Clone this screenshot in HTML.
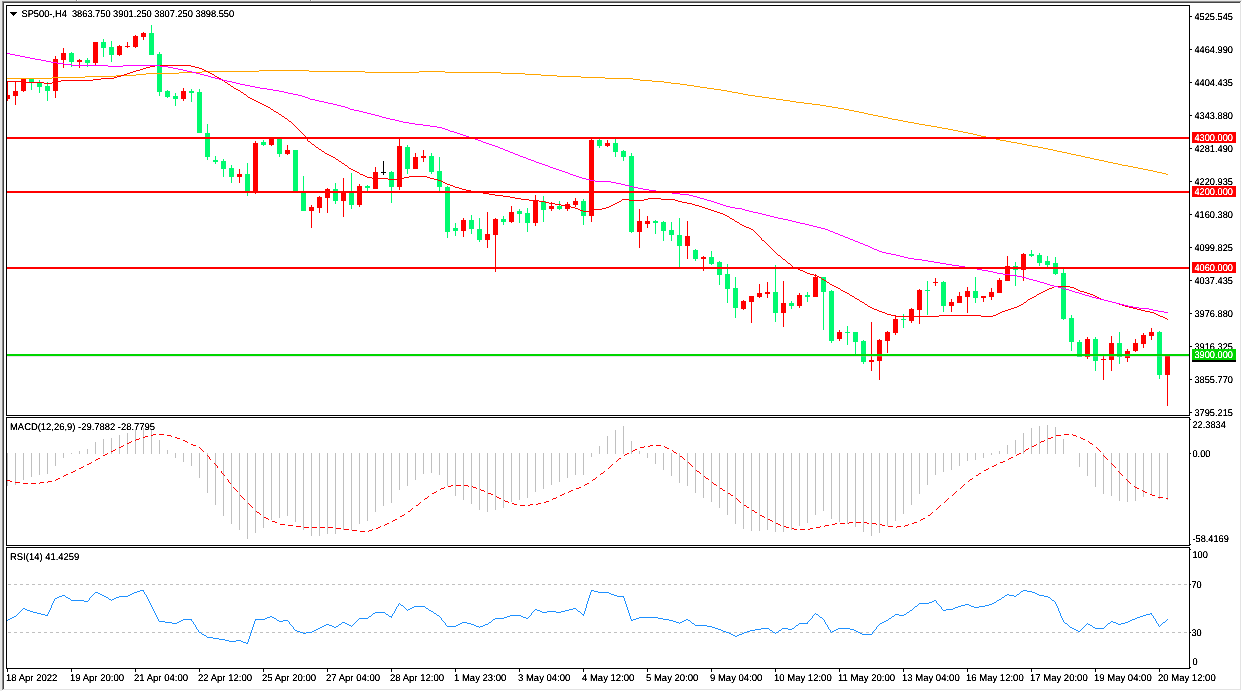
<!DOCTYPE html>
<html><head><meta charset="utf-8"><title>SP500 H4</title>
<style>
html,body{margin:0;padding:0;background:#fff;overflow:hidden}
body{width:1242px;height:691px;position:relative;font-family:"Liberation Sans",sans-serif}
svg{position:absolute;left:0;top:0;display:block}
text{font-family:"Liberation Sans",sans-serif;font-size:9.8px;fill:#000;text-rendering:geometricPrecision}
.w{fill:#fff}
</style></head><body>
<svg width="1242" height="691" viewBox="0 0 1242 691">
<defs><clipPath id="mc"><rect x="7" y="6" width="1182" height="409"/></clipPath><filter id="tf" x="0" y="0" width="100%" height="100%" filterUnits="userSpaceOnUse" color-interpolation-filters="sRGB"><feComponentTransfer><feFuncA type="linear" slope="2.0" intercept="-0.22"/></feComponentTransfer></filter></defs>
<rect x="0" y="0" width="1242" height="691" fill="#fff"/>
<g shape-rendering="crispEdges">
<rect x="0" y="0" width="1242" height="1" fill="#e9e9e9"/>
<rect x="0" y="0" width="2" height="691" fill="#e9e9e9"/>
<rect x="2" y="1" width="1239" height="1" fill="#8c8c8c"/>
<rect x="2" y="1" width="1" height="689" fill="#8c8c8c"/>
<rect x="3" y="2" width="1237" height="1" fill="#444"/>
<rect x="3" y="2" width="1" height="687" fill="#444"/>
<rect x="3" y="689" width="1238" height="1" fill="#e3e3e3"/>
<rect x="76" y="0" width="1" height="1" fill="#8a8a8a"/><rect x="77" y="0" width="1" height="1" fill="#fff"/><rect x="310" y="0" width="1" height="1" fill="#8a8a8a"/><rect x="311" y="0" width="1" height="1" fill="#fff"/>
<rect x="1240" y="2" width="1" height="688" fill="#e3e3e3"/>
</g>
<g shape-rendering="crispEdges" clip-path="url(#mc)">
<rect x="7" y="81" width="1" height="20" fill="#ff0000"/><rect x="5" y="95" width="5" height="4" fill="#ff0000"/>
<rect x="15" y="81" width="1" height="24" fill="#ff0000"/><rect x="13" y="91" width="5" height="5" fill="#ff0000"/>
<rect x="23" y="79" width="1" height="13" fill="#ff0000"/><rect x="21" y="79" width="5" height="12" fill="#ff0000"/>
<rect x="31" y="78" width="1" height="12" fill="#00fa70"/><rect x="29" y="79" width="5" height="3" fill="#00fa70"/>
<rect x="39" y="80" width="1" height="13" fill="#00fa70"/><rect x="37" y="83" width="5" height="4" fill="#00fa70"/>
<rect x="47" y="82" width="1" height="19" fill="#00fa70"/><rect x="45" y="86" width="5" height="5" fill="#00fa70"/>
<rect x="55" y="56" width="1" height="42" fill="#ff0000"/><rect x="53" y="59" width="5" height="32" fill="#ff0000"/>
<rect x="63" y="48" width="1" height="20" fill="#ff0000"/><rect x="61" y="53" width="5" height="7" fill="#ff0000"/>
<rect x="71" y="52" width="1" height="15" fill="#00fa70"/><rect x="69" y="53" width="5" height="9" fill="#00fa70"/>
<rect x="79" y="59" width="1" height="9" fill="#ff0000"/><rect x="77" y="60" width="5" height="2" fill="#ff0000"/>
<rect x="87" y="58" width="1" height="9" fill="#00fa70"/><rect x="85" y="60" width="5" height="3" fill="#00fa70"/>
<rect x="95" y="42" width="1" height="23" fill="#ff0000"/><rect x="93" y="42" width="5" height="21" fill="#ff0000"/>
<rect x="103" y="39" width="1" height="18" fill="#00fa70"/><rect x="101" y="42" width="5" height="6" fill="#00fa70"/>
<rect x="111" y="41" width="1" height="21" fill="#00fa70"/><rect x="109" y="47" width="5" height="8" fill="#00fa70"/>
<rect x="119" y="45" width="1" height="11" fill="#ff0000"/><rect x="117" y="46" width="5" height="9" fill="#ff0000"/>
<rect x="127" y="42" width="1" height="6" fill="#ff0000"/><rect x="125" y="46" width="5" height="1" fill="#ff0000"/>
<rect x="135" y="35" width="1" height="13" fill="#ff0000"/><rect x="133" y="36" width="5" height="11" fill="#ff0000"/>
<rect x="143" y="32" width="1" height="8" fill="#ff0000"/><rect x="141" y="33" width="5" height="4" fill="#ff0000"/>
<rect x="151" y="25" width="1" height="30" fill="#00fa70"/><rect x="149" y="33" width="5" height="22" fill="#00fa70"/>
<rect x="159" y="52" width="1" height="44" fill="#00fa70"/><rect x="157" y="54" width="5" height="38" fill="#00fa70"/>
<rect x="167" y="90" width="1" height="8" fill="#00fa70"/><rect x="165" y="91" width="5" height="6" fill="#00fa70"/>
<rect x="175" y="93" width="1" height="13" fill="#00fa70"/><rect x="173" y="96" width="5" height="3" fill="#00fa70"/>
<rect x="183" y="88" width="1" height="13" fill="#ff0000"/><rect x="181" y="91" width="5" height="8" fill="#ff0000"/>
<rect x="191" y="89" width="1" height="13" fill="#00fa70"/><rect x="189" y="91" width="5" height="2" fill="#00fa70"/>
<rect x="199" y="89" width="1" height="44" fill="#00fa70"/><rect x="197" y="92" width="5" height="41" fill="#00fa70"/>
<rect x="207" y="124" width="1" height="36" fill="#00fa70"/><rect x="205" y="133" width="5" height="24" fill="#00fa70"/>
<rect x="215" y="156" width="1" height="8" fill="#00fa70"/><rect x="213" y="160" width="5" height="2" fill="#00fa70"/>
<rect x="223" y="159" width="1" height="18" fill="#00fa70"/><rect x="221" y="161" width="5" height="8" fill="#00fa70"/>
<rect x="231" y="165" width="1" height="18" fill="#00fa70"/><rect x="229" y="168" width="5" height="9" fill="#00fa70"/>
<rect x="239" y="169" width="1" height="14" fill="#ff0000"/><rect x="237" y="174" width="5" height="3" fill="#ff0000"/>
<rect x="247" y="163" width="1" height="33" fill="#00fa70"/><rect x="245" y="174" width="5" height="18" fill="#00fa70"/>
<rect x="255" y="141" width="1" height="53" fill="#ff0000"/><rect x="253" y="143" width="5" height="49" fill="#ff0000"/>
<rect x="263" y="140" width="1" height="6" fill="#00fa70"/><rect x="261" y="142" width="5" height="3" fill="#00fa70"/>
<rect x="271" y="139" width="1" height="7" fill="#ff0000"/><rect x="269" y="139" width="5" height="6" fill="#ff0000"/>
<rect x="279" y="139" width="1" height="18" fill="#00fa70"/><rect x="277" y="139" width="5" height="15" fill="#00fa70"/>
<rect x="287" y="145" width="1" height="10" fill="#ff0000"/><rect x="285" y="150" width="5" height="4" fill="#ff0000"/>
<rect x="295" y="150" width="1" height="42" fill="#00fa70"/><rect x="293" y="150" width="5" height="42" fill="#00fa70"/>
<rect x="303" y="176" width="1" height="35" fill="#00fa70"/><rect x="301" y="191" width="5" height="20" fill="#00fa70"/>
<rect x="311" y="205" width="1" height="23" fill="#ff0000"/><rect x="309" y="207" width="5" height="4" fill="#ff0000"/>
<rect x="319" y="196" width="1" height="17" fill="#ff0000"/><rect x="317" y="197" width="5" height="11" fill="#ff0000"/>
<rect x="327" y="188" width="1" height="25" fill="#ff0000"/><rect x="325" y="189" width="5" height="9" fill="#ff0000"/>
<rect x="335" y="183" width="1" height="21" fill="#00fa70"/><rect x="333" y="189" width="5" height="12" fill="#00fa70"/>
<rect x="343" y="178" width="1" height="39" fill="#ff0000"/><rect x="341" y="191" width="5" height="10" fill="#ff0000"/>
<rect x="351" y="173" width="1" height="36" fill="#00fa70"/><rect x="349" y="191" width="5" height="14" fill="#00fa70"/>
<rect x="359" y="184" width="1" height="23" fill="#ff0000"/><rect x="357" y="186" width="5" height="19" fill="#ff0000"/>
<rect x="367" y="185" width="1" height="6" fill="#00fa70"/><rect x="365" y="186" width="5" height="2" fill="#00fa70"/>
<rect x="375" y="167" width="1" height="22" fill="#ff0000"/><rect x="373" y="172" width="5" height="17" fill="#ff0000"/>
<rect x="383" y="161" width="1" height="14" fill="#000000"/><rect x="381" y="172" width="5" height="1" fill="#000000"/>
<rect x="391" y="171" width="1" height="32" fill="#00fa70"/><rect x="389" y="172" width="5" height="15" fill="#00fa70"/>
<rect x="399" y="139" width="1" height="51" fill="#ff0000"/><rect x="397" y="146" width="5" height="41" fill="#ff0000"/>
<rect x="407" y="145" width="1" height="29" fill="#00fa70"/><rect x="405" y="147" width="5" height="22" fill="#00fa70"/>
<rect x="415" y="153" width="1" height="16" fill="#ff0000"/><rect x="413" y="157" width="5" height="12" fill="#ff0000"/>
<rect x="423" y="150" width="1" height="12" fill="#ff0000"/><rect x="421" y="156" width="5" height="2" fill="#ff0000"/>
<rect x="431" y="153" width="1" height="21" fill="#00fa70"/><rect x="429" y="156" width="5" height="16" fill="#00fa70"/>
<rect x="439" y="157" width="1" height="34" fill="#00fa70"/><rect x="437" y="171" width="5" height="16" fill="#00fa70"/>
<rect x="447" y="186" width="1" height="52" fill="#00fa70"/><rect x="445" y="187" width="5" height="45" fill="#00fa70"/>
<rect x="455" y="223" width="1" height="13" fill="#00fa70"/><rect x="453" y="228" width="5" height="3" fill="#00fa70"/>
<rect x="463" y="218" width="1" height="19" fill="#ff0000"/><rect x="461" y="220" width="5" height="11" fill="#ff0000"/>
<rect x="471" y="215" width="1" height="19" fill="#00fa70"/><rect x="469" y="220" width="5" height="9" fill="#00fa70"/>
<rect x="479" y="218" width="1" height="24" fill="#00fa70"/><rect x="477" y="229" width="5" height="11" fill="#00fa70"/>
<rect x="487" y="212" width="1" height="36" fill="#ff0000"/><rect x="485" y="234" width="5" height="6" fill="#ff0000"/>
<rect x="495" y="218" width="1" height="54" fill="#ff0000"/><rect x="493" y="219" width="5" height="16" fill="#ff0000"/>
<rect x="503" y="216" width="1" height="9" fill="#00fa70"/><rect x="501" y="219" width="5" height="3" fill="#00fa70"/>
<rect x="511" y="206" width="1" height="17" fill="#ff0000"/><rect x="509" y="212" width="5" height="10" fill="#ff0000"/>
<rect x="519" y="209" width="1" height="14" fill="#00fa70"/><rect x="517" y="211" width="5" height="3" fill="#00fa70"/>
<rect x="527" y="208" width="1" height="24" fill="#00fa70"/><rect x="525" y="213" width="5" height="10" fill="#00fa70"/>
<rect x="535" y="195" width="1" height="31" fill="#ff0000"/><rect x="533" y="201" width="5" height="22" fill="#ff0000"/>
<rect x="543" y="196" width="1" height="26" fill="#00fa70"/><rect x="541" y="201" width="5" height="9" fill="#00fa70"/>
<rect x="551" y="202" width="1" height="9" fill="#ff0000"/><rect x="549" y="206" width="5" height="3" fill="#ff0000"/>
<rect x="559" y="201" width="1" height="9" fill="#00fa70"/><rect x="557" y="206" width="5" height="3" fill="#00fa70"/>
<rect x="567" y="202" width="1" height="9" fill="#ff0000"/><rect x="565" y="204" width="5" height="5" fill="#ff0000"/>
<rect x="575" y="198" width="1" height="9" fill="#ff0000"/><rect x="573" y="201" width="5" height="4" fill="#ff0000"/>
<rect x="583" y="199" width="1" height="26" fill="#00fa70"/><rect x="581" y="201" width="5" height="15" fill="#00fa70"/>
<rect x="591" y="139" width="1" height="83" fill="#ff0000"/><rect x="589" y="140" width="5" height="76" fill="#ff0000"/>
<rect x="599" y="139" width="1" height="9" fill="#00fa70"/><rect x="597" y="140" width="5" height="6" fill="#00fa70"/>
<rect x="607" y="140" width="1" height="7" fill="#ff0000"/><rect x="605" y="143" width="5" height="3" fill="#ff0000"/>
<rect x="615" y="139" width="1" height="18" fill="#00fa70"/><rect x="613" y="143" width="5" height="9" fill="#00fa70"/>
<rect x="623" y="150" width="1" height="11" fill="#00fa70"/><rect x="621" y="151" width="5" height="6" fill="#00fa70"/>
<rect x="631" y="153" width="1" height="80" fill="#00fa70"/><rect x="629" y="156" width="5" height="76" fill="#00fa70"/>
<rect x="639" y="209" width="1" height="39" fill="#ff0000"/><rect x="637" y="221" width="5" height="11" fill="#ff0000"/>
<rect x="647" y="216" width="1" height="12" fill="#ff0000"/><rect x="645" y="221" width="5" height="3" fill="#ff0000"/>
<rect x="655" y="220" width="1" height="14" fill="#00fa70"/><rect x="653" y="221" width="5" height="2" fill="#00fa70"/>
<rect x="663" y="221" width="1" height="20" fill="#00fa70"/><rect x="661" y="222" width="5" height="9" fill="#00fa70"/>
<rect x="671" y="222" width="1" height="19" fill="#00fa70"/><rect x="669" y="230" width="5" height="5" fill="#00fa70"/>
<rect x="679" y="218" width="1" height="49" fill="#00fa70"/><rect x="677" y="235" width="5" height="11" fill="#00fa70"/>
<rect x="687" y="221" width="1" height="38" fill="#ff0000"/><rect x="685" y="236" width="5" height="10" fill="#ff0000"/>
<rect x="695" y="249" width="1" height="12" fill="#00fa70"/><rect x="693" y="250" width="5" height="9" fill="#00fa70"/>
<rect x="703" y="256" width="1" height="15" fill="#ff0000"/><rect x="701" y="257" width="5" height="2" fill="#ff0000"/>
<rect x="711" y="251" width="1" height="14" fill="#00fa70"/><rect x="709" y="257" width="5" height="7" fill="#00fa70"/>
<rect x="719" y="261" width="1" height="24" fill="#00fa70"/><rect x="717" y="262" width="5" height="13" fill="#00fa70"/>
<rect x="727" y="264" width="1" height="39" fill="#00fa70"/><rect x="725" y="274" width="5" height="15" fill="#00fa70"/>
<rect x="735" y="277" width="1" height="41" fill="#00fa70"/><rect x="733" y="288" width="5" height="20" fill="#00fa70"/>
<rect x="743" y="300" width="1" height="10" fill="#ff0000"/><rect x="741" y="301" width="5" height="8" fill="#ff0000"/>
<rect x="751" y="296" width="1" height="27" fill="#ff0000"/><rect x="749" y="296" width="5" height="6" fill="#ff0000"/>
<rect x="759" y="284" width="1" height="14" fill="#ff0000"/><rect x="757" y="293" width="5" height="4" fill="#ff0000"/>
<rect x="767" y="282" width="1" height="16" fill="#ff0000"/><rect x="765" y="292" width="5" height="2" fill="#ff0000"/>
<rect x="775" y="265" width="1" height="57" fill="#00fa70"/><rect x="773" y="292" width="5" height="21" fill="#00fa70"/>
<rect x="783" y="281" width="1" height="46" fill="#ff0000"/><rect x="781" y="303" width="5" height="10" fill="#ff0000"/>
<rect x="791" y="301" width="1" height="8" fill="#00fa70"/><rect x="789" y="303" width="5" height="3" fill="#00fa70"/>
<rect x="799" y="293" width="1" height="15" fill="#ff0000"/><rect x="797" y="295" width="5" height="11" fill="#ff0000"/>
<rect x="807" y="292" width="1" height="10" fill="#00fa70"/><rect x="805" y="295" width="5" height="2" fill="#00fa70"/>
<rect x="815" y="274" width="1" height="23" fill="#ff0000"/><rect x="813" y="277" width="5" height="20" fill="#ff0000"/>
<rect x="823" y="277" width="1" height="53" fill="#00fa70"/><rect x="821" y="277" width="5" height="15" fill="#00fa70"/>
<rect x="831" y="290" width="1" height="53" fill="#00fa70"/><rect x="829" y="291" width="5" height="50" fill="#00fa70"/>
<rect x="839" y="330" width="1" height="11" fill="#ff0000"/><rect x="837" y="332" width="5" height="7" fill="#ff0000"/>
<rect x="847" y="326" width="1" height="19" fill="#00fa70"/><rect x="845" y="332" width="5" height="1" fill="#00fa70"/>
<rect x="855" y="332" width="1" height="22" fill="#00fa70"/><rect x="853" y="332" width="5" height="10" fill="#00fa70"/>
<rect x="863" y="340" width="1" height="24" fill="#00fa70"/><rect x="861" y="341" width="5" height="21" fill="#00fa70"/>
<rect x="871" y="322" width="1" height="49" fill="#ff0000"/><rect x="869" y="360" width="5" height="2" fill="#ff0000"/>
<rect x="879" y="339" width="1" height="41" fill="#ff0000"/><rect x="877" y="340" width="5" height="21" fill="#ff0000"/>
<rect x="887" y="331" width="1" height="22" fill="#ff0000"/><rect x="885" y="332" width="5" height="9" fill="#ff0000"/>
<rect x="895" y="315" width="1" height="20" fill="#ff0000"/><rect x="893" y="319" width="5" height="14" fill="#ff0000"/>
<rect x="903" y="314" width="1" height="14" fill="#00fa70"/><rect x="901" y="319" width="5" height="1" fill="#00fa70"/>
<rect x="911" y="308" width="1" height="15" fill="#ff0000"/><rect x="909" y="309" width="5" height="12" fill="#ff0000"/>
<rect x="919" y="289" width="1" height="35" fill="#ff0000"/><rect x="917" y="290" width="5" height="20" fill="#ff0000"/>
<rect x="927" y="281" width="1" height="34" fill="#00fa70"/><rect x="925" y="290" width="5" height="1" fill="#00fa70"/>
<rect x="935" y="278" width="1" height="8" fill="#ff0000"/><rect x="933" y="282" width="5" height="1" fill="#ff0000"/>
<rect x="943" y="281" width="1" height="31" fill="#00fa70"/><rect x="941" y="282" width="5" height="24" fill="#00fa70"/>
<rect x="951" y="299" width="1" height="13" fill="#ff0000"/><rect x="949" y="302" width="5" height="4" fill="#ff0000"/>
<rect x="959" y="292" width="1" height="11" fill="#ff0000"/><rect x="957" y="296" width="5" height="7" fill="#ff0000"/>
<rect x="967" y="287" width="1" height="26" fill="#ff0000"/><rect x="965" y="291" width="5" height="6" fill="#ff0000"/>
<rect x="975" y="277" width="1" height="26" fill="#00fa70"/><rect x="973" y="291" width="5" height="7" fill="#00fa70"/>
<rect x="983" y="296" width="1" height="6" fill="#ff0000"/><rect x="981" y="296" width="5" height="2" fill="#ff0000"/>
<rect x="991" y="288" width="1" height="12" fill="#ff0000"/><rect x="989" y="292" width="5" height="5" fill="#ff0000"/>
<rect x="999" y="278" width="1" height="15" fill="#ff0000"/><rect x="997" y="280" width="5" height="13" fill="#ff0000"/>
<rect x="1007" y="256" width="1" height="25" fill="#ff0000"/><rect x="1005" y="266" width="5" height="15" fill="#ff0000"/>
<rect x="1015" y="262" width="1" height="24" fill="#00fa70"/><rect x="1013" y="266" width="5" height="4" fill="#00fa70"/>
<rect x="1023" y="253" width="1" height="28" fill="#ff0000"/><rect x="1021" y="254" width="5" height="16" fill="#ff0000"/>
<rect x="1031" y="250" width="1" height="7" fill="#00fa70"/><rect x="1029" y="254" width="5" height="2" fill="#00fa70"/>
<rect x="1039" y="253" width="1" height="13" fill="#00fa70"/><rect x="1037" y="255" width="5" height="8" fill="#00fa70"/>
<rect x="1047" y="256" width="1" height="11" fill="#00fa70"/><rect x="1045" y="261" width="5" height="4" fill="#00fa70"/>
<rect x="1055" y="257" width="1" height="18" fill="#00fa70"/><rect x="1053" y="263" width="5" height="11" fill="#00fa70"/>
<rect x="1063" y="269" width="1" height="51" fill="#00fa70"/><rect x="1061" y="273" width="5" height="46" fill="#00fa70"/>
<rect x="1071" y="315" width="1" height="36" fill="#00fa70"/><rect x="1069" y="318" width="5" height="24" fill="#00fa70"/>
<rect x="1079" y="340" width="1" height="17" fill="#00fa70"/><rect x="1077" y="342" width="5" height="15" fill="#00fa70"/>
<rect x="1087" y="337" width="1" height="22" fill="#ff0000"/><rect x="1085" y="339" width="5" height="18" fill="#ff0000"/>
<rect x="1095" y="337" width="1" height="34" fill="#00fa70"/><rect x="1093" y="339" width="5" height="22" fill="#00fa70"/>
<rect x="1103" y="354" width="1" height="26" fill="#ff0000"/><rect x="1101" y="359" width="5" height="1" fill="#ff0000"/>
<rect x="1111" y="336" width="1" height="35" fill="#ff0000"/><rect x="1109" y="343" width="5" height="17" fill="#ff0000"/>
<rect x="1119" y="332" width="1" height="32" fill="#00fa70"/><rect x="1117" y="343" width="5" height="14" fill="#00fa70"/>
<rect x="1127" y="349" width="1" height="13" fill="#ff0000"/><rect x="1125" y="351" width="5" height="7" fill="#ff0000"/>
<rect x="1135" y="339" width="1" height="13" fill="#ff0000"/><rect x="1133" y="343" width="5" height="8" fill="#ff0000"/>
<rect x="1143" y="333" width="1" height="15" fill="#ff0000"/><rect x="1141" y="335" width="5" height="9" fill="#ff0000"/>
<rect x="1151" y="328" width="1" height="12" fill="#ff0000"/><rect x="1149" y="332" width="5" height="4" fill="#ff0000"/>
<rect x="1159" y="331" width="1" height="48" fill="#00fa70"/><rect x="1157" y="332" width="5" height="43" fill="#00fa70"/>
<rect x="1167" y="354" width="1" height="52" fill="#ff0000"/><rect x="1165" y="356" width="5" height="19" fill="#ff0000"/>
</g>
<path transform="translate(0 0.5)" d="M259 70h50M202 71h57M309 71h56M419 71h26M179 72h23M365 72h54M445 72h56M146 73h33M501 73h24M136 74h10M525 74h16M116 75h20M541 75h16M85 76h31M557 76h24M52 77h33M581 77h24M7 78h45M605 78h28M633 79h7M640 80h12M652 81h12M664 82h7M671 83h9M680 84h7M687 85h7M694 86h6M700 87h7M707 88h7M714 89h7M721 90h6M727 91h5M732 92h6M738 93h5M743 94h5M748 95h7M755 96h7M762 97h7M769 98h7M776 99h7M783 100h7M790 101h6M796 102h8M804 103h8M812 104h8M820 105h6M826 106h6M832 107h6M838 108h6M844 109h5M849 110h5M854 111h5M859 112h5M864 113h4M868 114h5M873 115h5M878 116h5M883 117h5M888 118h4M892 119h6M898 120h5M903 121h5M908 122h6M914 123h5M919 124h6M925 125h6M931 126h6M937 127h5M942 128h6M948 129h5M953 130h5M958 131h5M963 132h5M968 133h5M973 134h4M977 135h4M981 136h5M986 137h5M991 138h5M996 139h4M1000 140h6M1006 141h5M1011 142h6M1017 143h5M1022 144h5M1027 145h5M1032 146h6M1038 147h5M1043 148h5M1048 149h5M1053 150h4M1057 151h5M1062 152h5M1067 153h4M1071 154h5M1076 155h5M1081 156h4M1085 157h5M1090 158h4M1094 159h5M1099 160h5M1104 161h4M1108 162h5M1113 163h5M1118 164h4M1122 165h6M1128 166h5M1133 167h5M1138 168h5M1143 169h5M1148 170h5M1153 171h4M1157 172h5M1162 173h4M1166 174h2" fill="none" stroke="#ffa500" stroke-width="1" shape-rendering="crispEdges"/>
<path transform="translate(0 0.5)" d="M155 65h36M150 66h5M191 66h4M146 67h4M195 67h4M143 68h3M199 68h3M140 69h3M202 69h2M136 70h4M204 70h2M133 71h3M206 71h2M130 72h3M208 72h2M127 73h3M210 73h2M124 74h3M212 74h2M121 75h3M214 75h1M117 76h4M215 76h2M114 77h3M217 77h2M101 78h13M219 78h2M93 79h8M221 79h1M61 80h32M222 80h2M7 81h15M56 81h5M224 81h1M22 82h22M52 82h4M225 82h2M44 83h8M227 83h1M228 84h2M230 85h1M231 86h2M233 87h1M234 88h2M236 89h2M238 90h2M240 91h1M241 92h2M243 93h1M244 94h2M246 95h1M247 96h1M248 97h2M250 98h2M252 99h2M254 100h2M256 101h2M258 102h2M260 103h2M262 104h2M264 105h2M266 106h2M268 107h2M270 108h1M271 109h2M273 110h1M274 111h2M276 112h2M278 113h1M279 114h2M281 115h1M282 116h2M284 117h1M285 118h2M287 119h1M288 120h1M289 121h2M291 122h1M292 123h1M293 124h1M294 125h1M295 126h1M296 127h1M297 128h1M298 129h1M299 130h1M300 131h1M301 132h1M302 133h1M303 134h1M304 135h1M305 136h1M305 137h1M306 138h1M307 139h1M307 140h1M308 141h2M310 142h1M311 143h1M312 144h2M314 145h1M315 146h1M316 147h2M318 148h1M319 149h2M321 150h1M322 151h2M324 152h1M325 153h2M327 154h2M329 155h2M331 156h2M333 157h2M335 158h1M336 159h2M338 160h1M339 161h2M341 162h1M342 163h2M344 164h1M345 165h2M347 166h1M348 167h1M349 168h2M351 169h2M353 170h2M355 171h2M357 172h2M359 173h1M360 174h3M363 175h2M365 176h2M409 176h18M367 177h5M404 177h5M427 177h3M372 178h16M399 178h5M430 178h4M388 179h11M434 179h4M438 180h3M441 181h2M443 182h2M445 183h2M447 184h3M450 185h3M453 186h2M455 187h4M459 188h3M462 189h4M466 190h5M471 191h6M477 192h6M483 193h6M489 194h6M495 195h8M503 196h7M510 197h5M515 198h6M648 198h13M521 199h8M622 199h7M644 199h4M661 199h14M529 200h10M621 200h1M629 200h15M675 200h3M539 201h6M619 201h2M678 201h4M545 202h4M617 202h2M682 202h5M549 203h6M615 203h2M687 203h5M555 204h6M613 204h2M692 204h3M561 205h6M611 205h2M695 205h4M567 206h4M609 206h2M699 206h3M571 207h4M606 207h3M702 207h3M575 208h3M602 208h4M705 208h3M578 209h2M594 209h8M708 209h3M580 210h3M590 210h4M711 210h3M583 211h7M714 211h3M717 212h3M720 213h3M723 214h2M725 215h2M727 216h2M729 217h1M730 218h2M732 219h2M734 220h1M735 221h2M737 222h2M739 223h1M740 224h2M742 225h2M744 226h2M746 227h3M749 228h2M751 229h2M753 230h1M754 231h1M755 232h1M756 233h1M757 234h1M758 235h1M759 236h1M760 237h1M761 238h1M761 239h1M762 240h2M764 241h1M765 242h1M766 243h1M767 244h1M768 245h1M769 246h1M770 247h1M771 248h1M772 249h1M773 250h1M774 251h1M775 252h1M776 253h1M777 254h1M778 255h2M780 256h1M781 257h1M782 258h1M783 259h2M785 260h1M786 261h1M787 262h1M788 263h2M790 264h1M791 265h1M792 266h1M793 267h3M796 268h2M798 269h2M800 270h3M803 271h2M805 272h2M807 273h3M810 274h4M814 275h3M817 276h2M819 277h2M821 278h1M822 279h2M824 280h2M826 281h1M827 282h2M829 283h1M830 284h2M832 285h2M834 286h2M1054 286h16M836 287h2M1052 287h2M1070 287h4M838 288h2M1049 288h3M1074 288h2M840 289h1M1047 289h2M1076 289h2M841 290h2M1045 290h2M1078 290h2M843 291h2M1043 291h2M1080 291h4M845 292h2M1041 292h2M1084 292h3M847 293h2M1039 293h2M1087 293h3M849 294h1M1037 294h2M1090 294h3M850 295h2M1036 295h1M1093 295h2M852 296h2M1034 296h2M1095 296h2M854 297h1M1032 297h2M1097 297h2M855 298h2M1030 298h2M1099 298h2M857 299h2M1028 299h2M1101 299h3M859 300h1M1027 300h1M1104 300h4M860 301h2M1026 301h1M1108 301h4M862 302h2M1024 302h2M1112 302h4M864 303h1M1023 303h1M1116 303h3M865 304h2M1021 304h2M1119 304h3M867 305h1M1019 305h2M1122 305h3M868 306h2M1017 306h2M1125 306h4M870 307h2M1014 307h3M1129 307h4M872 308h2M1011 308h3M1133 308h4M874 309h3M1008 309h3M1137 309h4M877 310h2M1005 310h3M1141 310h4M879 311h3M1002 311h3M1145 311h5M882 312h3M1000 312h2M1150 312h4M885 313h2M998 313h2M1154 313h2M887 314h4M996 314h2M1156 314h2M891 315h4M939 315h42M993 315h3M1158 315h2M895 316h44M981 316h12M1160 316h3M1163 317h2M1165 318h2M1167 319h1" fill="none" stroke="#ff0000" stroke-width="1" shape-rendering="crispEdges"/>
<path transform="translate(0 0.5)" d="M7 53h3M10 54h5M15 55h5M20 56h5M25 57h5M30 58h5M35 59h6M41 60h5M46 61h5M51 62h6M57 63h7M64 64h8M72 65h36M123 65h37M108 66h15M160 66h8M168 67h5M173 68h5M178 69h5M183 70h4M187 71h5M192 72h4M196 73h4M200 74h4M204 75h4M208 76h3M211 77h4M215 78h4M219 79h4M223 80h4M227 81h5M232 82h4M236 83h4M240 84h5M245 85h5M250 86h5M255 87h5M260 88h7M267 89h6M273 90h6M279 91h5M284 92h4M288 93h5M293 94h5M298 95h4M302 96h3M305 97h3M308 98h2M310 99h5M315 100h4M319 101h5M324 102h4M328 103h5M333 104h4M337 105h4M341 106h4M345 107h3M348 108h2M350 109h4M354 110h5M359 111h4M363 112h4M367 113h4M371 114h4M375 115h4M379 116h3M382 117h4M386 118h4M390 119h5M395 120h4M399 121h4M403 122h6M409 123h6M415 124h8M423 125h7M430 126h7M437 127h5M442 128h3M445 129h3M448 130h2M450 131h4M454 132h3M457 133h3M460 134h3M463 135h3M466 136h3M469 137h3M472 138h3M475 139h3M478 140h3M481 141h2M483 142h3M486 143h3M489 144h3M492 145h3M495 146h3M498 147h2M500 148h3M503 149h2M505 150h3M508 151h2M510 152h3M513 153h2M515 154h3M518 155h2M520 156h3M523 157h3M526 158h2M528 159h3M531 160h3M534 161h2M536 162h3M539 163h3M542 164h3M545 165h3M548 166h2M550 167h3M553 168h3M556 169h3M559 170h3M562 171h3M565 172h3M568 173h2M570 174h3M573 175h3M576 176h3M579 177h3M582 178h4M586 179h4M590 180h5M595 181h16M611 182h5M616 183h5M621 184h4M625 185h4M629 186h4M633 187h5M638 188h5M643 189h6M649 190h7M656 191h8M664 192h8M672 193h8M680 194h9M689 195h4M693 196h4M697 197h3M700 198h4M704 199h3M707 200h4M711 201h3M714 202h3M717 203h3M720 204h3M723 205h3M726 206h4M730 207h5M735 208h7M742 209h3M745 210h4M749 211h4M753 212h5M758 213h4M762 214h4M766 215h4M770 216h4M774 217h4M778 218h5M783 219h5M788 220h4M792 221h4M796 222h4M800 223h5M805 224h4M809 225h4M813 226h4M817 227h4M821 228h4M825 229h3M828 230h2M830 231h3M833 232h2M835 233h3M838 234h2M840 235h3M843 236h2M845 237h3M848 238h2M850 239h3M853 240h2M855 241h3M858 242h2M860 243h3M863 244h2M865 245h3M868 246h2M870 247h2M872 248h2M874 249h3M877 250h2M879 251h3M882 252h4M886 253h5M891 254h5M896 255h4M900 256h4M904 257h4M908 258h6M914 259h8M922 260h6M928 261h6M934 262h6M940 263h6M946 264h6M952 265h7M959 266h6M965 267h6M971 268h6M977 269h5M982 270h6M988 271h5M993 272h4M997 273h6M1003 274h7M1010 275h7M1017 276h5M1022 277h4M1026 278h3M1029 279h4M1033 280h4M1037 281h3M1040 282h4M1044 283h3M1047 284h3M1050 285h4M1054 286h4M1058 287h4M1062 288h3M1065 289h4M1069 290h3M1072 291h3M1075 292h4M1079 293h3M1082 294h3M1085 295h4M1089 296h3M1092 297h4M1096 298h4M1100 299h4M1104 300h4M1108 301h4M1112 302h4M1116 303h4M1120 304h4M1124 305h4M1128 306h5M1133 307h6M1139 308h10M1149 309h4M1153 310h5M1158 311h6M1164 312h4" fill="none" stroke="#ff00ff" stroke-width="1" shape-rendering="crispEdges"/>
<g shape-rendering="crispEdges">
<rect x="7" y="137" width="1183" height="2" fill="#ff0000"/>
<rect x="7" y="191" width="1183" height="2" fill="#ff0000"/>
<rect x="7" y="267" width="1183" height="2" fill="#ff0000"/>
<rect x="7" y="354" width="1183" height="2" fill="#00d600"/>
<rect x="7" y="356" width="1182" height="1" fill="#c8a0c8" fill-opacity="0.3"/>
<rect x="6" y="5" width="1184" height="1" fill="#000"/><rect x="6" y="415" width="1184" height="1" fill="#000"/><rect x="6" y="5" width="1" height="411" fill="#000"/><rect x="1189" y="5" width="1" height="411" fill="#000"/>
<rect x="6" y="417" width="1184" height="1" fill="#000"/><rect x="6" y="545" width="1184" height="1" fill="#000"/><rect x="6" y="417" width="1" height="129" fill="#000"/><rect x="1189" y="417" width="1" height="129" fill="#000"/>
<rect x="6" y="547" width="1184" height="1" fill="#000"/><rect x="6" y="668" width="1184" height="1" fill="#000"/><rect x="6" y="547" width="1" height="122" fill="#000"/><rect x="1189" y="547" width="1" height="122" fill="#000"/>
<rect x="1190" y="16" width="2" height="1" fill="#000"/><rect x="1190" y="49" width="2" height="1" fill="#000"/><rect x="1190" y="82" width="2" height="1" fill="#000"/><rect x="1190" y="115" width="2" height="1" fill="#000"/><rect x="1190" y="148" width="2" height="1" fill="#000"/><rect x="1190" y="181" width="2" height="1" fill="#000"/><rect x="1190" y="214" width="2" height="1" fill="#000"/><rect x="1190" y="247" width="2" height="1" fill="#000"/><rect x="1190" y="280" width="2" height="1" fill="#000"/><rect x="1190" y="313" width="2" height="1" fill="#000"/><rect x="1190" y="346" width="2" height="1" fill="#000"/><rect x="1190" y="379" width="2" height="1" fill="#000"/><rect x="1190" y="412" width="2" height="1" fill="#000"/>
<rect x="1190" y="419" width="1" height="1" fill="#000"/><rect x="1190" y="453" width="1" height="1" fill="#000"/><rect x="1190" y="544" width="1" height="1" fill="#000"/><rect x="1190" y="549" width="1" height="1" fill="#000"/><rect x="1190" y="584" width="1" height="1" fill="#000"/><rect x="1190" y="632" width="1" height="1" fill="#000"/><rect x="1190" y="667" width="1" height="1" fill="#000"/>
<rect x="7" y="669" width="1" height="3" fill="#000"/><rect x="71" y="669" width="1" height="3" fill="#000"/><rect x="135" y="669" width="1" height="3" fill="#000"/><rect x="199" y="669" width="1" height="3" fill="#000"/><rect x="263" y="669" width="1" height="3" fill="#000"/><rect x="327" y="669" width="1" height="3" fill="#000"/><rect x="391" y="669" width="1" height="3" fill="#000"/><rect x="455" y="669" width="1" height="3" fill="#000"/><rect x="519" y="669" width="1" height="3" fill="#000"/><rect x="583" y="669" width="1" height="3" fill="#000"/><rect x="647" y="669" width="1" height="3" fill="#000"/><rect x="711" y="669" width="1" height="3" fill="#000"/><rect x="775" y="669" width="1" height="3" fill="#000"/><rect x="839" y="669" width="1" height="3" fill="#000"/><rect x="903" y="669" width="1" height="3" fill="#000"/><rect x="967" y="669" width="1" height="3" fill="#000"/><rect x="1031" y="669" width="1" height="3" fill="#000"/><rect x="1095" y="669" width="1" height="3" fill="#000"/><rect x="1159" y="669" width="1" height="3" fill="#000"/>
<rect x="7" y="453" width="1" height="33" fill="#c0c0c0"/><rect x="15" y="453" width="1" height="32" fill="#c0c0c0"/><rect x="23" y="453" width="1" height="27" fill="#c0c0c0"/><rect x="31" y="453" width="1" height="24" fill="#c0c0c0"/><rect x="39" y="453" width="1" height="22" fill="#c0c0c0"/><rect x="47" y="453" width="1" height="21" fill="#c0c0c0"/><rect x="55" y="453" width="1" height="13" fill="#c0c0c0"/><rect x="63" y="453" width="1" height="5" fill="#c0c0c0"/><rect x="71" y="453" width="1" height="1" fill="#c0c0c0"/><rect x="79" y="451" width="1" height="3" fill="#c0c0c0"/><rect x="87" y="449" width="1" height="5" fill="#c0c0c0"/><rect x="95" y="442" width="1" height="12" fill="#c0c0c0"/><rect x="103" y="439" width="1" height="15" fill="#c0c0c0"/><rect x="111" y="438" width="1" height="16" fill="#c0c0c0"/><rect x="119" y="435" width="1" height="19" fill="#c0c0c0"/><rect x="127" y="433" width="1" height="21" fill="#c0c0c0"/><rect x="135" y="430" width="1" height="24" fill="#c0c0c0"/><rect x="143" y="428" width="1" height="26" fill="#c0c0c0"/><rect x="151" y="430" width="1" height="24" fill="#c0c0c0"/><rect x="159" y="440" width="1" height="14" fill="#c0c0c0"/><rect x="167" y="450" width="1" height="4" fill="#c0c0c0"/><rect x="175" y="453" width="1" height="5" fill="#c0c0c0"/><rect x="183" y="453" width="1" height="9" fill="#c0c0c0"/><rect x="191" y="453" width="1" height="13" fill="#c0c0c0"/><rect x="199" y="453" width="1" height="25" fill="#c0c0c0"/><rect x="207" y="453" width="1" height="40" fill="#c0c0c0"/><rect x="215" y="453" width="1" height="52" fill="#c0c0c0"/><rect x="223" y="453" width="1" height="63" fill="#c0c0c0"/><rect x="231" y="453" width="1" height="71" fill="#c0c0c0"/><rect x="239" y="453" width="1" height="77" fill="#c0c0c0"/><rect x="247" y="453" width="1" height="86" fill="#c0c0c0"/><rect x="255" y="453" width="1" height="80" fill="#c0c0c0"/><rect x="263" y="453" width="1" height="75" fill="#c0c0c0"/><rect x="271" y="453" width="1" height="67" fill="#c0c0c0"/><rect x="279" y="453" width="1" height="65" fill="#c0c0c0"/><rect x="287" y="453" width="1" height="63" fill="#c0c0c0"/><rect x="295" y="453" width="1" height="69" fill="#c0c0c0"/><rect x="303" y="453" width="1" height="77" fill="#c0c0c0"/><rect x="311" y="453" width="1" height="83" fill="#c0c0c0"/><rect x="319" y="453" width="1" height="83" fill="#c0c0c0"/><rect x="327" y="453" width="1" height="81" fill="#c0c0c0"/><rect x="335" y="453" width="1" height="81" fill="#c0c0c0"/><rect x="343" y="453" width="1" height="77" fill="#c0c0c0"/><rect x="351" y="453" width="1" height="77" fill="#c0c0c0"/><rect x="359" y="453" width="1" height="71" fill="#c0c0c0"/><rect x="367" y="453" width="1" height="68" fill="#c0c0c0"/><rect x="375" y="453" width="1" height="59" fill="#c0c0c0"/><rect x="383" y="453" width="1" height="53" fill="#c0c0c0"/><rect x="391" y="453" width="1" height="50" fill="#c0c0c0"/><rect x="399" y="453" width="1" height="37" fill="#c0c0c0"/><rect x="407" y="453" width="1" height="33" fill="#c0c0c0"/><rect x="415" y="453" width="1" height="27" fill="#c0c0c0"/><rect x="423" y="453" width="1" height="21" fill="#c0c0c0"/><rect x="431" y="453" width="1" height="20" fill="#c0c0c0"/><rect x="439" y="453" width="1" height="22" fill="#c0c0c0"/><rect x="447" y="453" width="1" height="33" fill="#c0c0c0"/><rect x="455" y="453" width="1" height="43" fill="#c0c0c0"/><rect x="463" y="453" width="1" height="47" fill="#c0c0c0"/><rect x="471" y="453" width="1" height="51" fill="#c0c0c0"/><rect x="479" y="453" width="1" height="57" fill="#c0c0c0"/><rect x="487" y="453" width="1" height="59" fill="#c0c0c0"/><rect x="495" y="453" width="1" height="57" fill="#c0c0c0"/><rect x="503" y="453" width="1" height="55" fill="#c0c0c0"/><rect x="511" y="453" width="1" height="49" fill="#c0c0c0"/><rect x="519" y="453" width="1" height="47" fill="#c0c0c0"/><rect x="527" y="453" width="1" height="45" fill="#c0c0c0"/><rect x="535" y="453" width="1" height="39" fill="#c0c0c0"/><rect x="543" y="453" width="1" height="36" fill="#c0c0c0"/><rect x="551" y="453" width="1" height="32" fill="#c0c0c0"/><rect x="559" y="453" width="1" height="29" fill="#c0c0c0"/><rect x="567" y="453" width="1" height="25" fill="#c0c0c0"/><rect x="575" y="453" width="1" height="22" fill="#c0c0c0"/><rect x="583" y="453" width="1" height="22" fill="#c0c0c0"/><rect x="591" y="453" width="1" height="4" fill="#c0c0c0"/><rect x="599" y="446" width="1" height="8" fill="#c0c0c0"/><rect x="607" y="436" width="1" height="18" fill="#c0c0c0"/><rect x="615" y="430" width="1" height="24" fill="#c0c0c0"/><rect x="623" y="426" width="1" height="28" fill="#c0c0c0"/><rect x="631" y="441" width="1" height="13" fill="#c0c0c0"/><rect x="639" y="451" width="1" height="3" fill="#c0c0c0"/><rect x="647" y="453" width="1" height="5" fill="#c0c0c0"/><rect x="655" y="453" width="1" height="11" fill="#c0c0c0"/><rect x="663" y="453" width="1" height="17" fill="#c0c0c0"/><rect x="671" y="453" width="1" height="23" fill="#c0c0c0"/><rect x="679" y="453" width="1" height="30" fill="#c0c0c0"/><rect x="687" y="453" width="1" height="33" fill="#c0c0c0"/><rect x="695" y="453" width="1" height="40" fill="#c0c0c0"/><rect x="703" y="453" width="1" height="45" fill="#c0c0c0"/><rect x="711" y="453" width="1" height="49" fill="#c0c0c0"/><rect x="719" y="453" width="1" height="55" fill="#c0c0c0"/><rect x="727" y="453" width="1" height="62" fill="#c0c0c0"/><rect x="735" y="453" width="1" height="71" fill="#c0c0c0"/><rect x="743" y="453" width="1" height="76" fill="#c0c0c0"/><rect x="751" y="453" width="1" height="78" fill="#c0c0c0"/><rect x="759" y="453" width="1" height="78" fill="#c0c0c0"/><rect x="767" y="453" width="1" height="77" fill="#c0c0c0"/><rect x="775" y="453" width="1" height="79" fill="#c0c0c0"/><rect x="783" y="453" width="1" height="79" fill="#c0c0c0"/><rect x="791" y="453" width="1" height="77" fill="#c0c0c0"/><rect x="799" y="453" width="1" height="73" fill="#c0c0c0"/><rect x="807" y="453" width="1" height="70" fill="#c0c0c0"/><rect x="815" y="453" width="1" height="62" fill="#c0c0c0"/><rect x="823" y="453" width="1" height="58" fill="#c0c0c0"/><rect x="831" y="453" width="1" height="66" fill="#c0c0c0"/><rect x="839" y="453" width="1" height="69" fill="#c0c0c0"/><rect x="847" y="453" width="1" height="71" fill="#c0c0c0"/><rect x="855" y="453" width="1" height="74" fill="#c0c0c0"/><rect x="863" y="453" width="1" height="79" fill="#c0c0c0"/><rect x="871" y="453" width="1" height="83" fill="#c0c0c0"/><rect x="879" y="453" width="1" height="80" fill="#c0c0c0"/><rect x="887" y="453" width="1" height="73" fill="#c0c0c0"/><rect x="895" y="453" width="1" height="68" fill="#c0c0c0"/><rect x="903" y="453" width="1" height="61" fill="#c0c0c0"/><rect x="911" y="453" width="1" height="52" fill="#c0c0c0"/><rect x="919" y="453" width="1" height="41" fill="#c0c0c0"/><rect x="927" y="453" width="1" height="32" fill="#c0c0c0"/><rect x="935" y="453" width="1" height="22" fill="#c0c0c0"/><rect x="943" y="453" width="1" height="19" fill="#c0c0c0"/><rect x="951" y="453" width="1" height="17" fill="#c0c0c0"/><rect x="959" y="453" width="1" height="13" fill="#c0c0c0"/><rect x="967" y="453" width="1" height="8" fill="#c0c0c0"/><rect x="975" y="453" width="1" height="7" fill="#c0c0c0"/><rect x="983" y="453" width="1" height="5" fill="#c0c0c0"/><rect x="991" y="453" width="1" height="2" fill="#c0c0c0"/><rect x="999" y="451" width="1" height="3" fill="#c0c0c0"/><rect x="1007" y="445" width="1" height="9" fill="#c0c0c0"/><rect x="1015" y="440" width="1" height="14" fill="#c0c0c0"/><rect x="1023" y="433" width="1" height="21" fill="#c0c0c0"/><rect x="1031" y="428" width="1" height="26" fill="#c0c0c0"/><rect x="1039" y="426" width="1" height="28" fill="#c0c0c0"/><rect x="1047" y="425" width="1" height="29" fill="#c0c0c0"/><rect x="1055" y="427" width="1" height="27" fill="#c0c0c0"/><rect x="1063" y="439" width="1" height="15" fill="#c0c0c0"/><rect x="1079" y="453" width="1" height="14" fill="#c0c0c0"/><rect x="1087" y="453" width="1" height="23" fill="#c0c0c0"/><rect x="1095" y="453" width="1" height="34" fill="#c0c0c0"/><rect x="1103" y="453" width="1" height="41" fill="#c0c0c0"/><rect x="1111" y="453" width="1" height="43" fill="#c0c0c0"/><rect x="1119" y="453" width="1" height="48" fill="#c0c0c0"/><rect x="1127" y="453" width="1" height="49" fill="#c0c0c0"/><rect x="1135" y="453" width="1" height="48" fill="#c0c0c0"/><rect x="1143" y="453" width="1" height="44" fill="#c0c0c0"/><rect x="1151" y="453" width="1" height="41" fill="#c0c0c0"/><rect x="1159" y="453" width="1" height="46" fill="#c0c0c0"/><rect x="1167" y="453" width="1" height="47" fill="#c0c0c0"/>
<line x1="8" y1="584.5" x2="1188" y2="584.5" stroke="#c0c0c0" stroke-width="1" stroke-dasharray="3 3"/>
<line x1="8" y1="632.5" x2="1188" y2="632.5" stroke="#c0c0c0" stroke-width="1" stroke-dasharray="3 3"/>
</g>
<path transform="translate(0 0.5)" d="M153 434h3M159 434h5M1064 434h5M1072 434h1M151 435h2M167 435h4M1056 435h5M1073 435h3M145 436h3M171 436h1M1076 436h1M143 437h2M175 437h2M1051 437h2M1080 437h1M139 438h1M177 438h3M1048 438h3M1081 438h2M136 439h3M1083 439h2M135 440h1M183 440h2M1044 440h1M131 441h1M185 441h2M1041 441h3M1088 441h1M129 442h2M187 442h1M1040 442h1M1089 442h1M127 443h2M1090 443h2M191 444h2M1036 444h1M1092 444h1M123 445h1M193 445h3M650 445h3M656 445h5M1034 445h2M121 446h2M644 446h1M648 446h2M664 446h1M1032 446h2M119 447h2M199 447h1M640 447h4M665 447h2M1096 447h1M200 448h1M667 448h2M1028 448h1M1097 448h1M115 449h1M201 449h1M635 449h2M1026 449h2M1098 449h1M113 450h2M202 450h1M633 450h2M672 450h1M1025 450h1M1099 450h1M111 451h2M203 451h1M632 451h1M673 451h1M1024 451h1M1100 451h1M674 452h2M107 453h1M627 453h2M676 453h1M1019 453h2M105 454h2M625 454h2M1017 454h2M103 455h2M207 455h1M624 455h1M1016 455h1M1103 455h1M208 456h1M680 456h2M1104 456h1M209 457h1M682 457h1M1011 457h2M1105 457h1M98 458h2M209 458h1M619 458h2M683 458h1M1009 458h2M1106 458h1M96 459h2M210 459h1M618 459h1M684 459h1M1008 459h1M1107 459h1M95 460h1M617 460h1M616 461h1M1003 461h2M91 462h1M688 462h1M1000 462h3M89 463h2M214 463h1M689 463h1M1111 463h1M87 464h2M215 464h1M612 464h1M690 464h1M996 464h1M1112 464h1M216 465h1M611 465h1M691 465h1M994 465h2M1113 465h1M83 466h1M217 466h1M610 466h1M692 466h1M992 466h2M1114 466h1M81 467h2M217 467h1M609 467h1M1115 467h1M79 468h2M608 468h1M988 468h1M986 469h2M75 470h1M696 470h1M984 470h2M73 471h2M221 471h1M604 471h1M697 471h2M1118 471h1M71 472h2M221 472h1M603 472h1M699 472h1M1119 472h1M222 473h1M601 473h2M700 473h1M979 473h2M1120 473h1M66 474h2M223 474h1M600 474h1M978 474h1M1121 474h1M64 475h2M224 475h1M976 475h2M1122 475h1M63 476h1M704 476h1M596 477h1M705 477h1M58 478h2M595 478h1M706 478h2M972 478h1M56 479h2M227 479h1M593 479h2M708 479h1M970 479h2M1126 479h1M7 480h3M55 480h1M228 480h1M592 480h1M969 480h1M1127 480h1M10 481h2M48 481h4M228 481h1M968 481h1M1128 481h1M15 482h5M40 482h4M47 482h1M229 482h1M712 482h1M1129 482h1M23 483h5M31 483h5M39 483h1M230 483h1M587 483h2M713 483h1M1130 483h1M585 484h2M714 484h2M964 484h1M451 485h2M456 485h5M464 485h4M584 485h1M716 485h1M963 485h1M448 486h3M468 486h1M472 486h1M962 486h1M1134 486h1M233 487h1M444 487h1M473 487h3M579 487h2M961 487h1M1135 487h2M234 488h1M441 488h3M476 488h1M576 488h3M720 488h2M960 488h1M1137 488h2M235 489h1M440 489h1M480 489h1M722 489h1M236 490h1M481 490h3M571 490h2M723 490h2M1142 490h1M237 491h1M436 491h1M484 491h1M569 491h2M956 491h1M1143 491h2M434 492h2M568 492h1M955 492h1M1145 492h2M432 493h2M488 493h3M564 493h1M728 493h2M954 493h1M491 494h2M562 494h2M730 494h1M953 494h1M1150 494h2M240 495h1M560 495h2M731 495h2M952 495h1M1152 495h3M241 496h1M428 496h1M496 496h1M242 497h1M427 497h1M497 497h2M556 497h1M1158 497h5M243 498h1M425 498h2M499 498h2M553 498h3M736 498h1M948 498h1M1166 498h2M244 499h1M424 499h1M552 499h1M737 499h1M947 499h1M504 500h1M738 500h1M946 500h1M505 501h3M546 501h3M739 501h1M945 501h1M420 502h1M508 502h1M544 502h2M740 502h1M944 502h1M248 503h1M419 503h1M512 503h2M538 503h3M249 504h1M418 504h1M514 504h3M530 504h3M536 504h2M250 505h1M416 505h2M520 505h5M528 505h2M744 505h2M940 505h1M251 506h1M746 506h1M939 506h1M252 507h1M747 507h2M938 507h1M412 508h1M937 508h1M411 509h1M936 509h1M410 510h1M752 510h2M256 511h1M408 511h2M754 511h1M257 512h2M755 512h2M932 512h1M259 513h1M931 513h1M260 514h1M404 514h1M930 514h1M402 515h2M760 515h2M928 515h2M400 516h2M762 516h2M264 517h2M764 517h1M266 518h2M923 518h2M268 519h1M395 519h2M768 519h2M921 519h2M393 520h2M770 520h2M920 520h1M272 521h3M392 521h1M772 521h1M275 522h2M849 522h4M856 522h5M864 522h3M914 522h3M387 523h2M776 523h2M835 523h2M840 523h5M848 523h1M867 523h2M872 523h4M912 523h2M280 524h5M385 524h2M778 524h2M832 524h3M876 524h1M880 524h2M908 524h1M288 525h5M384 525h1M780 525h1M825 525h4M882 525h3M905 525h3M296 526h5M380 526h1M784 526h2M820 526h1M824 526h1M888 526h5M897 526h4M904 526h1M304 527h5M312 527h5M320 527h5M328 527h5M378 527h2M786 527h3M816 527h4M896 527h1M336 528h5M376 528h2M792 528h2M810 528h3M344 529h5M372 529h1M794 529h3M800 529h5M808 529h2M352 530h5M369 530h3M360 531h5M368 531h1" fill="none" stroke="#ff0000" stroke-width="1" shape-rendering="crispEdges"/>
<path transform="translate(0 0.5)" d="M140 590h4M591 590h3M1023 590h4M137 591h3M143 591h1M591 591h1M594 591h4M1021 591h2M1027 591h5M95 592h3M134 592h3M144 592h1M590 592h1M598 592h11M1020 592h1M1032 592h3M94 593h1M98 593h2M132 593h2M144 593h1M590 593h1M609 593h2M1019 593h1M1035 593h2M93 594h1M100 594h2M130 594h2M145 594h1M590 594h1M611 594h3M1007 594h2M1017 594h2M1037 594h2M62 595h3M92 595h1M102 595h2M128 595h2M146 595h1M589 595h1M614 595h3M1005 595h2M1009 595h5M1016 595h1M1039 595h5M59 596h3M65 596h1M91 596h1M104 596h2M119 596h9M146 596h1M589 596h1M617 596h7M1004 596h1M1014 596h2M1044 596h4M57 597h2M66 597h2M90 597h1M106 597h2M116 597h3M147 597h1M589 597h1M623 597h1M1002 597h2M1048 597h2M55 598h2M68 598h2M89 598h1M108 598h1M114 598h2M147 598h1M588 598h1M624 598h1M1001 598h1M1050 598h1M54 599h1M70 599h1M89 599h1M109 599h2M112 599h2M148 599h1M588 599h1M624 599h1M999 599h2M1051 599h1M54 600h1M71 600h13M88 600h1M111 600h1M148 600h1M588 600h1M624 600h1M934 600h2M997 600h2M1052 600h2M53 601h1M84 601h4M149 601h1M587 601h1M625 601h1M932 601h2M936 601h1M996 601h1M1054 601h1M53 602h1M149 602h1M587 602h1M625 602h1M929 602h3M936 602h1M994 602h2M1055 602h1M52 603h1M150 603h1M399 603h1M587 603h1M625 603h1M919 603h10M937 603h1M992 603h2M1055 603h1M52 604h1M150 604h1M398 604h1M400 604h1M586 604h1M626 604h1M918 604h1M938 604h1M965 604h4M989 604h3M1056 604h1M51 605h1M151 605h1M398 605h1M401 605h2M586 605h1M626 605h1M917 605h1M939 605h1M961 605h4M969 605h2M985 605h4M1056 605h1M51 606h1M151 606h1M397 606h1M403 606h1M414 606h11M586 606h1M626 606h1M915 606h2M940 606h1M958 606h3M971 606h3M979 606h6M1057 606h1M51 607h1M152 607h1M396 607h1M404 607h1M412 607h2M425 607h1M586 607h1M627 607h1M914 607h1M941 607h1M955 607h3M974 607h5M1057 607h1M23 608h2M50 608h1M152 608h1M396 608h1M405 608h1M410 608h2M426 608h2M573 608h3M585 608h1M627 608h1M913 608h1M941 608h1M953 608h2M1058 608h1M22 609h1M25 609h2M50 609h1M153 609h1M395 609h1M406 609h1M408 609h2M428 609h1M535 609h2M569 609h4M576 609h1M585 609h1M627 609h1M912 609h1M942 609h1M946 609h7M1058 609h1M21 610h1M27 610h3M49 610h1M153 610h1M395 610h1M407 610h1M429 610h2M534 610h1M537 610h3M565 610h4M577 610h1M585 610h1M628 610h1M910 610h2M943 610h3M1058 610h1M20 611h1M30 611h3M49 611h1M154 611h1M394 611h1M431 611h2M533 611h1M540 611h2M547 611h9M561 611h4M578 611h2M584 611h1M628 611h1M909 611h1M1059 611h1M19 612h1M33 612h4M48 612h1M154 612h1M375 612h10M394 612h1M433 612h1M532 612h1M542 612h5M556 612h5M580 612h1M584 612h1M628 612h1M907 612h2M1059 612h1M18 613h1M37 613h4M48 613h1M155 613h1M373 613h2M385 613h1M393 613h1M434 613h2M531 613h1M581 613h1M584 613h1M629 613h1M815 613h1M906 613h1M1060 613h1M1150 613h2M17 614h1M41 614h4M47 614h1M155 614h1M372 614h1M386 614h2M392 614h1M436 614h1M531 614h1M582 614h2M629 614h1M814 614h1M816 614h2M895 614h4M904 614h2M1060 614h1M1146 614h4M1151 614h1M16 615h1M45 615h3M156 615h1M371 615h1M388 615h1M392 615h1M437 615h2M510 615h11M530 615h1M583 615h1M629 615h1M813 615h1M818 615h1M894 615h1M899 615h5M1060 615h1M1143 615h3M1152 615h1M14 616h2M156 616h1M270 616h2M369 616h2M389 616h3M439 616h1M507 616h3M521 616h2M529 616h1M630 616h1M812 616h1M819 616h1M892 616h2M1061 616h1M1140 616h3M1153 616h1M12 617h2M157 617h1M267 617h3M272 617h2M368 617h1M391 617h1M440 617h1M504 617h3M523 617h3M528 617h1M630 617h1M639 617h19M812 617h1M820 617h2M891 617h1M1061 617h1M1137 617h3M1153 617h1M10 618h2M157 618h1M265 618h2M274 618h2M359 618h9M441 618h1M495 618h9M526 618h2M630 618h1M636 618h3M658 618h5M811 618h1M822 618h1M889 618h2M1062 618h1M1135 618h2M1154 618h1M8 619h2M158 619h1M183 619h9M255 619h10M276 619h1M358 619h1M441 619h1M493 619h2M631 619h1M633 619h3M663 619h6M686 619h2M810 619h1M823 619h1M888 619h1M1062 619h1M1132 619h3M1155 619h1M1167 619h1M7 620h1M158 620h1M181 620h2M191 620h1M255 620h1M277 620h2M283 620h5M357 620h1M442 620h1M492 620h1M631 620h2M669 620h4M684 620h2M688 620h2M809 620h1M824 620h1M886 620h2M1063 620h1M1130 620h2M1155 620h1M1166 620h1M159 621h6M179 621h2M192 621h1M254 621h1M279 621h4M288 621h1M356 621h1M443 621h1M491 621h1M673 621h3M682 621h2M690 621h1M808 621h1M824 621h1M884 621h2M1063 621h1M1111 621h2M1128 621h2M1156 621h1M1165 621h1M165 622h7M177 622h2M193 622h1M254 622h1M289 622h1M342 622h3M355 622h1M444 622h1M462 622h5M489 622h2M676 622h3M680 622h2M691 622h1M807 622h1M825 622h1M882 622h2M1064 622h1M1110 622h1M1113 622h3M1125 622h3M1156 622h1M1163 622h2M172 623h5M193 623h1M254 623h1M289 623h1M341 623h1M345 623h2M354 623h1M445 623h1M460 623h2M467 623h4M488 623h1M679 623h1M692 623h2M799 623h9M825 623h1M880 623h2M1065 623h2M1087 623h1M1108 623h2M1116 623h2M1121 623h4M1157 623h1M1162 623h1M194 624h1M253 624h1M290 624h1M326 624h3M339 624h2M347 624h2M353 624h1M445 624h1M458 624h2M471 624h3M485 624h3M694 624h1M798 624h1M826 624h1M879 624h1M1067 624h1M1086 624h1M1088 624h2M1107 624h1M1118 624h3M1158 624h1M1161 624h1M195 625h1M253 625h1M291 625h1M324 625h2M329 625h3M338 625h1M349 625h2M352 625h1M446 625h1M456 625h2M474 625h2M483 625h2M695 625h12M796 625h2M827 625h1M878 625h1M1068 625h1M1085 625h1M1090 625h2M1106 625h1M1158 625h1M1160 625h1M195 626h1M253 626h1M292 626h1M322 626h2M332 626h2M336 626h2M351 626h1M447 626h9M476 626h3M480 626h3M707 626h5M795 626h1M827 626h1M877 626h1M1069 626h1M1084 626h1M1092 626h1M1105 626h1M1159 626h1M196 627h1M252 627h1M293 627h1M320 627h2M334 627h2M479 627h1M712 627h3M794 627h1M828 627h1M876 627h1M1070 627h2M1083 627h1M1093 627h2M1104 627h1M196 628h1M252 628h1M293 628h1M318 628h2M715 628h3M761 628h8M782 628h6M792 628h2M828 628h1M838 628h12M876 628h1M1072 628h2M1082 628h1M1095 628h9M197 629h1M252 629h1M294 629h1M316 629h2M718 629h3M755 629h6M769 629h1M781 629h1M788 629h4M829 629h1M836 629h2M850 629h4M875 629h1M1074 629h2M1081 629h1M198 630h1M251 630h1M295 630h2M314 630h2M721 630h2M750 630h5M770 630h2M779 630h2M830 630h1M834 630h2M854 630h2M874 630h1M1076 630h2M1080 630h1M198 631h1M251 631h1M297 631h3M312 631h2M723 631h3M747 631h3M772 631h1M778 631h1M830 631h1M832 631h2M856 631h2M873 631h1M1078 631h2M199 632h2M251 632h1M300 632h3M306 632h6M726 632h3M744 632h3M773 632h2M776 632h2M831 632h1M858 632h2M872 632h1M201 633h1M250 633h1M303 633h3M729 633h2M742 633h2M775 633h1M860 633h2M872 633h1M202 634h2M250 634h1M731 634h2M739 634h3M862 634h10M204 635h2M250 635h1M733 635h2M737 635h2M206 636h1M249 636h1M735 636h2M207 637h6M249 637h1M213 638h6M249 638h1M219 639h6M248 639h1M225 640h4M236 640h5M248 640h1M229 641h7M241 641h2M248 641h1M243 642h3M247 642h1M246 643h2" fill="none" stroke="#1e90ff" stroke-width="1" shape-rendering="crispEdges"/>
<path d="M10 12h7l-3.5 4z" fill="#000" shape-rendering="crispEdges"/>
<g filter="url(#tf)">
<text transform="translate(21.5 17) scale(0.945 1)">SP500-,H4&#160; 3863.750 3901.250 3807.250 3898.550</text><text transform="translate(10 430) scale(0.9612 1)">MACD(12,26,9) -29.7882 -28.7795</text><text transform="translate(10 560) scale(0.9643 1)">RSI(14) 41.4259</text>
<text transform="translate(1194.5 19.6) scale(0.9388 1)">4525.545</text><text transform="translate(1194.5 52.6) scale(0.9388 1)">4464.990</text><text transform="translate(1194.5 85.6) scale(0.9388 1)">4404.435</text><text transform="translate(1194.5 118.6) scale(0.9388 1)">4343.880</text><text transform="translate(1194.5 151.6) scale(0.9388 1)">4281.490</text><text transform="translate(1194.5 184.6) scale(0.9388 1)">4220.935</text><text transform="translate(1194.5 217.6) scale(0.9388 1)">4160.380</text><text transform="translate(1194.5 250.6) scale(0.9388 1)">4099.825</text><text transform="translate(1194.5 283.6) scale(0.9388 1)">4037.435</text><text transform="translate(1194.5 316.6) scale(0.9388 1)">3976.880</text><text transform="translate(1194.5 349.6) scale(0.9388 1)">3916.325</text><text transform="translate(1194.5 382.6) scale(0.9388 1)">3855.770</text><text transform="translate(1194.5 415.6) scale(0.9388 1)">3795.215</text>
</g>
<g shape-rendering="crispEdges">
<rect x="1192" y="351" width="44" height="11" fill="#000"/>
<rect x="1192" y="132" width="44" height="11" fill="#ff0000"/>
<rect x="1192" y="186" width="44" height="11" fill="#ff0000"/>
<rect x="1192" y="262" width="44" height="11" fill="#ff0000"/>
<rect x="1192" y="349" width="44" height="11" fill="#00d600"/>
</g>
<g filter="url(#tf)">
<text class="w" transform="translate(1194.5 140.6) scale(0.9388 1)">4300.000</text><text class="w" transform="translate(1194.5 194.6) scale(0.9388 1)">4200.000</text><text class="w" transform="translate(1194.5 270.6) scale(0.9388 1)">4060.000</text><text class="w" transform="translate(1194.5 357.6) scale(0.9388 1)">3900.000</text>
<text transform="translate(1192.5 428) scale(0.9388 1)">22.3834</text><text transform="translate(1192.5 457) scale(0.9388 1)">0.00</text><text transform="translate(1192.5 542) scale(0.9388 1)">-58.4169</text><text transform="translate(1192.5 558) scale(0.9388 1)">100</text><text transform="translate(1191.5 588) scale(0.9388 1)">70</text><text transform="translate(1191.5 636) scale(0.9388 1)">30</text><text transform="translate(1192.5 665) scale(0.9388 1)">0</text>
<text transform="translate(6.0 681) scale(0.972 1)">18 Apr 2022</text><text transform="translate(70.0 681) scale(0.972 1)">19 Apr 20:00</text><text transform="translate(134.0 681) scale(0.972 1)">21 Apr 04:00</text><text transform="translate(198.0 681) scale(0.972 1)">22 Apr 12:00</text><text transform="translate(262.0 681) scale(0.972 1)">25 Apr 20:00</text><text transform="translate(326.0 681) scale(0.972 1)">27 Apr 04:00</text><text transform="translate(390.0 681) scale(0.972 1)">28 Apr 12:00</text><text transform="translate(454.0 681) scale(0.972 1)">1 May 23:00</text><text transform="translate(518.0 681) scale(0.972 1)">3 May 04:00</text><text transform="translate(582.0 681) scale(0.972 1)">4 May 12:00</text><text transform="translate(646.0 681) scale(0.972 1)">5 May 20:00</text><text transform="translate(710.0 681) scale(0.972 1)">9 May 04:00</text><text transform="translate(774.0 681) scale(0.972 1)">10 May 12:00</text><text transform="translate(838.0 681) scale(0.972 1)">11 May 20:00</text><text transform="translate(902.0 681) scale(0.972 1)">13 May 04:00</text><text transform="translate(966.0 681) scale(0.972 1)">16 May 12:00</text><text transform="translate(1030.0 681) scale(0.972 1)">17 May 20:00</text><text transform="translate(1094.0 681) scale(0.972 1)">19 May 04:00</text><text transform="translate(1158.0 681) scale(0.972 1)">20 May 12:00</text>
</g>
</svg>
</body></html>
